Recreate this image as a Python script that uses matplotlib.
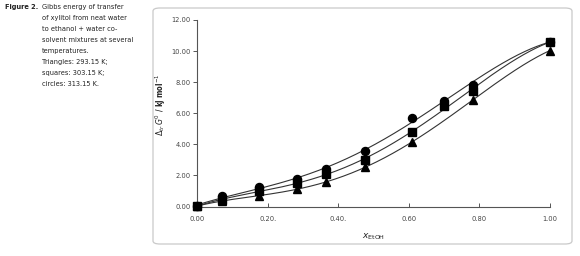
import numpy as np
import matplotlib
matplotlib.use("Agg")
import matplotlib.pyplot as plt
from matplotlib.patches import FancyBboxPatch
from matplotlib import font_manager

# ---- data ----
x_etoh = [0.0, 0.07, 0.176, 0.282, 0.366, 0.477, 0.609, 0.699, 0.782, 1.0]
triangles_29315 = [0.0, 0.33, 0.67, 1.08, 1.57, 2.50, 4.13, np.nan, 6.84, 10.02]
squares_30315 = [0.0, 0.42, 0.97, 1.46, 2.06, 3.00, 4.75, 6.48, 7.40, 10.58]
circles_31315 = [0.0, 0.62, 1.23, 1.74, 2.37, 3.57, 5.66, 6.80, 7.82, 10.60]
x_ticks = [0.0, 0.2, 0.4, 0.6, 0.8, 1.0]
x_ticklabels = ["0.00", "0.20.", "0.40.", "0.60", "0.80", "1.00"]
y_ticks = [0, 2, 4, 6, 8, 10, 12]
caption_lines = ["Gibbs energy of transfer", "of xylitol from neat water",
                 "to ethanol + water co-", "solvent mixtures at several",
                 "temperatures.", "Triangles: 293.15 K;", "squares: 303.15 K;",
                 "circles: 313.15 K."]

# pick a condensed font if one is installed
fonts = font_manager.fontManager.ttflist
cond = [f for f in fonts if ("Narrow" in f.name or "Condensed" in f.name
                              or f.stretch in ("condensed", "semi-condensed"))]
if cond:
    cf = cond[0]
    FONT = dict(family=cf.name, stretch=cf.stretch)
    CAP_FS = 5.3
else:
    FONT = dict(family="Liberation Sans")
    CAP_FS = 4.8

W, H = 580, 256
fig = plt.figure(figsize=(W / 100, H / 100), dpi=100)

# frame box
box = FancyBboxPatch((153 / W, 1 - 244 / H), (572 - 153) / W, (244 - 8) / H,
                     boxstyle="round,pad=0,rounding_size=0.012",
                     transform=fig.transFigure, facecolor="none",
                     edgecolor="#c9c9c9", linewidth=0.9)
fig.patches.append(box)

# caption
fig.text(5 / W, 1 - 7 / H, "Figure 2.", fontsize=CAP_FS, fontweight="bold",
         va="center", ha="left", color="#222222", **FONT)
for i, line in enumerate(caption_lines):
    fig.text(42 / W, 1 - (7 + 11 * i) / H, line, fontsize=CAP_FS,
             va="center", ha="left", color="#222222", **FONT)

ax = fig.add_axes([193.5 / W, 1 - 207.3 / H, (549.5 - 193.5) / W, (207.3 - 20) / H])
ax.set_xlim(-0.011, 1.0)
ax.set_ylim(-0.08, 12)
ax.patch.set_alpha(0)

xs = np.array(x_etoh)
xx = np.linspace(0, 1, 300)
series = [(triangles_29315, "^"), (squares_30315, "s"), (circles_31315, "o")]
for vals, mk in series:
    v = np.array(vals, dtype=float)
    m = ~np.isnan(v)
    coef = np.polyfit(xs[m], v[m], 4)
    ax.plot(xx, np.polyval(coef, xx), color="#333333", lw=0.8, zorder=2)
for vals, mk in series:
    v = np.array(vals, dtype=float)
    ax.plot(xs, v, linestyle="none", marker=mk, color="black",
            markersize=5.6 if mk != "o" else 5.8, zorder=3, clip_on=False)

for s in ["top", "right"]:
    ax.spines[s].set_visible(False)
ax.spines["left"].set_position(("data", 0))
for s in ["left", "bottom"]:
    ax.spines[s].set_color("#555555")
    ax.spines[s].set_linewidth(0.8)

ax.set_xticks(x_ticks)
ax.set_xticklabels(x_ticklabels)
ax.set_yticks(y_ticks)
ax.set_yticklabels([f"{t:.2f}" for t in y_ticks])
ax.tick_params(axis="x", direction="in", length=3, width=0.7, color="#555555",
               labelsize=5.3, labelcolor="#444444", pad=6)
ax.tick_params(axis="y", direction="out", length=3, width=0.7, color="#555555",
               labelsize=5.3, labelcolor="#444444", pad=2)
for lab in ax.get_xticklabels() + ax.get_yticklabels():
    lab.set_family(FONT["family"])
    if "stretch" in FONT:
        lab.set_stretch(FONT["stretch"])

ax.set_ylabel(r"$\Delta_{tr}\,G^{0}$ / kJ mol$^{-1}$",
              fontsize=5.6, fontweight="bold", color="#222222", **FONT)
ax.yaxis.set_label_coords(-0.072, 0.55)
ax.set_xlabel(r"$x_{\mathrm{EtOH}}$", fontsize=6.5, color="#222222")
ax.xaxis.set_label_coords(0.505, -0.13)

fig.savefig("out.png", dpi=100)
